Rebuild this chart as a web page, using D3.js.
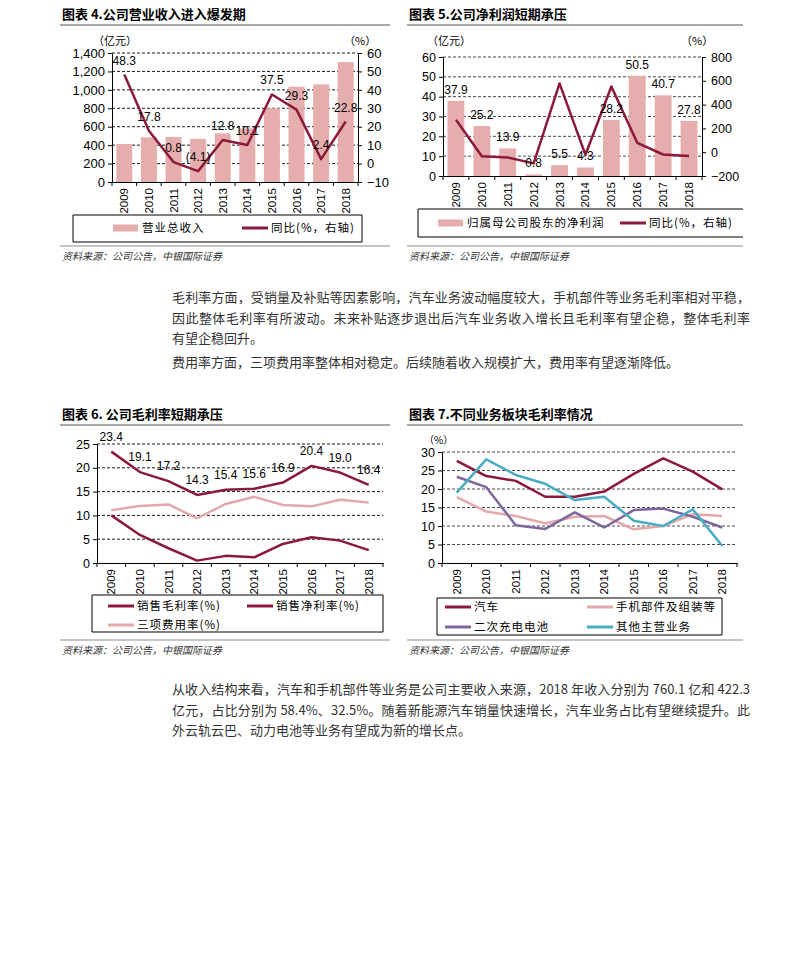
<!DOCTYPE html>
<html>
<head>
<meta charset="utf-8">
<script src="https://cdn.jsdelivr.net/npm/d3@7"></script>
<style>
body { margin: 0; background: #fff; }
#wrap { position: relative; width: 793px; height: 980px; }
svg text { font-family: "Liberation Sans", Arial, "Noto Sans CJK SC", sans-serif; fill: #000; }
svg .cn { font-family: "Noto Sans CJK SC", sans-serif; }
svg .title { font-family: "Noto Sans CJK SC", sans-serif; font-weight: bold; font-size: 13px; }
svg .src { font-family: "Noto Sans CJK SC", sans-serif; font-style: italic; font-size: 10px; fill: #333; }
.para { position: absolute; left: 172px; width: 578px; font-family: "Noto Sans CJK SC", sans-serif;
        font-size: 13px; line-height: 20px; color: #333; }
</style>
</head>
<body>
<div id="wrap"><svg id="page" width="793" height="980"></svg></div>
<script>
const years = ["2009", "2010", "2011", "2012", "2013", "2014", "2015", "2016", "2017", "2018"];

// 图表4 营业收入（亿元）与同比（%）
const revenue = [411.0, 484.8, 488.3, 468.5, 528.6, 582.0, 800.1, 1034.7, 1059.2, 1300.5];
const revenueYoY = [48.3, 17.8, 0.8, -4.1, 12.8, 10.1, 37.5, 29.3, 2.4, 22.8];
const revenueTicks = [0, 200, 400, 600, 800, 1000, 1200, 1400];
const revenueYoYTicks = [-10, 0, 10, 20, 30, 40, 50, 60];

// 图表5 归母净利润（亿元）与同比（%）
const netProfit = [37.9, 25.2, 13.9, 0.8, 5.5, 4.3, 28.2, 50.5, 40.7, 27.8];
const netProfitYoY = [272, -33.5, -44.8, -94.1, 578, -22.0, 552, 79.1, -19.4, -31.7];
const profitTicks = [0, 10, 20, 30, 40, 50, 60];
const profitYoYTicks = [-200, 0, 200, 400, 600, 800];

// 图表6 毛利率 / 净利率 / 三项费用率（%）
const grossMargin = [23.4, 19.1, 17.2, 14.3, 15.4, 15.6, 16.9, 20.4, 19.0, 16.4];
const netMargin = [10.0, 5.9, 3.1, 0.5, 1.5, 1.2, 4.0, 5.4, 4.7, 2.7];
const expenseRatio = [11.1, 12.0, 12.3, 9.4, 12.4, 13.9, 12.2, 11.9, 13.3, 12.7];
const marginTicks = [0, 5, 10, 15, 20, 25];

// 图表7 各业务毛利率（%）
const autoGM = [27.6, 23.5, 22.2, 17.9, 17.9, 19.3, 24.1, 28.3, 24.7, 19.9];
const phoneGM = [17.8, 13.9, 12.7, 10.7, 12.5, 12.7, 9.1, 10.0, 13.2, 12.7];
const batteryGM = [23.3, 20.5, 10.2, 9.2, 13.7, 9.6, 14.3, 14.7, 12.5, 9.6];
const otherGM = [19.0, 28.0, 23.8, 21.4, 17.0, 17.9, 11.4, 10.0, 14.5, 4.6];
const segmentTicks = [0, 5, 10, 15, 20, 25, 30];

const para1 = [
  "毛利率方面，受销量及补贴等因素影响，汽车业务波动幅度较大，手机部件等业务毛利率相对平稳，",
  "因此整体毛利率有所波动。未来补贴逐步退出后汽车业务收入增长且毛利率有望企稳，整体毛利率",
  "有望企稳回升。"
];
const para2 = ["费用率方面，三项费用率整体相对稳定。后续随着收入规模扩大，费用率有望逐渐降低。"];
const para3 = [
  "从收入结构来看，汽车和手机部件等业务是公司主要收入来源，2018 年收入分别为 760.1 亿和 422.3",
  "亿元，占比分别为 58.4%、32.5%。随着新能源汽车销量快速增长，汽车业务占比有望继续提升。此",
  "外云轨云巴、动力电池等业务有望成为新的增长点。"
];

const barColor = "#e6adad";
const darkRed = "#8b1a3a";
const lightPink = "#e3a8a8";
const purple = "#7f679e";
const teal = "#4aacc2";

const svg = d3.select("#page");
const comma = d3.format(",");

const header = (x1, x2, y, text) => {
  svg.append("text").attr("class", "title").attr("x", x1 + 2).attr("y", y).text(text);
  svg.append("line").attr("x1", x1).attr("x2", x2).attr("y1", y + 6).attr("y2", y + 6)
    .attr("stroke", "#8c8c8c").attr("stroke-width", 1.5);
};

const source = (x1, x2, y) => {
  svg.append("line").attr("x1", x1).attr("x2", x2).attr("y1", y).attr("y2", y)
    .attr("stroke", "#8c8c8c").attr("stroke-width", 1.2);
  svg.append("text").attr("class", "src").attr("x", x1 + 2).attr("y", y + 14)
    .text("资料来源：公司公告，中银国际证券");
};

const bandX = (x0, x1) => d3.scaleBand().domain(years).range([x0, x1])
  .paddingInner(0.35).paddingOuter(0.175);

const grid = (y, ticks, x0, x1, color) => {
  svg.append("g").selectAll("line").data(ticks.slice(1)).join("line")
    .attr("x1", x0).attr("x2", x1)
    .attr("y1", d => y(d)).attr("y2", d => y(d))
    .attr("stroke", color).attr("stroke-width", 0.9).attr("stroke-dasharray", "3,2");
};

const styleAxis = (g, size) => {
  g.select(".domain").attr("stroke", "#000");
  g.selectAll(".tick line").attr("stroke", "#000");
  g.selectAll("text").style("font-size", size + "px").attr("fill", "#000");
};

const leftAxis = (y, ticks, x0, fmt, size) => {
  svg.append("g").attr("transform", `translate(${x0},0)`)
    .call(d3.axisLeft(y).tickValues(ticks).tickFormat(fmt).tickSize(4).tickSizeOuter(0).tickPadding(3))
    .call(g => styleAxis(g, size));
};

const rightAxis = (y, ticks, x0, size) => {
  svg.append("g").attr("transform", `translate(${x0},0)`)
    .call(d3.axisRight(y).tickValues(ticks).tickSize(4).tickSizeOuter(0).tickPadding(5))
    .call(g => styleAxis(g, size));
};

const bottomAxis = (x, y0) => {
  const g = svg.append("g").attr("transform", `translate(0,${y0})`)
    .call(d3.axisBottom(x).tickSize(0).tickSizeOuter(0));
  styleAxis(g, 11.5);
  g.selectAll(".tick text")
    .attr("transform", "rotate(-90)")
    .attr("x", -6).attr("y", 0).attr("dy", "0.35em")
    .attr("text-anchor", "end");
  const [r0] = x.range();
  g.selectAll(".bound").data(d3.range(years.length + 1)).join("line")
    .attr("x1", i => r0 + i * x.step()).attr("x2", i => r0 + i * x.step())
    .attr("y1", 0).attr("y2", 4).attr("stroke", "#000");
};

const lineSeries = (x, y, values, color, width) => {
  svg.append("path").datum(values)
    .attr("fill", "none").attr("stroke", color).attr("stroke-width", width)
    .attr("stroke-linejoin", "round")
    .attr("d", d3.line().x((d, i) => x(years[i]) + x.bandwidth() / 2).y(d => y(d)));
};

const legendBox = (x1, x2, y1, y2, openRight) => {
  const p = openRight
    ? `M${x2},${y1}H${x1}V${y2}H${x2}`
    : `M${x1},${y1}H${x2}V${y2}H${x1}Z`;
  svg.append("path").attr("d", p).attr("fill", "none").attr("stroke", "#000").attr("stroke-width", 1);
};

const legendLine = (x, y, color, label) => {
  svg.append("line").attr("x1", x).attr("x2", x + 26).attr("y1", y).attr("y2", y)
    .attr("stroke", color).attr("stroke-width", 3);
  svg.append("text").attr("class", "cn").attr("x", x + 29).attr("y", y).attr("dy", "0.36em")
    .style("font-size", "11.5px").style("letter-spacing", "1px").text(label);
};

const legendSwatch = (x, y, color, label) => {
  svg.append("rect").attr("x", x).attr("y", y - 3.5).attr("width", 25).attr("height", 7).attr("fill", color);
  svg.append("text").attr("class", "cn").attr("x", x + 29).attr("y", y).attr("dy", "0.36em")
    .style("font-size", "11.5px").style("letter-spacing", "1px").text(label);
};

const unit = (x, y, text, size) => {
  svg.append("text").attr("class", "cn").attr("x", x).attr("y", y).attr("dy", "0.36em")
    .style("font-size", size + "px").text(text);
};

// ---------- 图表4 ----------
{
  header(60, 390, 19, "图表 4.公司营业收入进入爆发期");
  const x = bandX(112, 358);
  const y = d3.scaleLinear().domain([0, 1400]).range([182, 53]);
  const y2 = d3.scaleLinear().domain([-10, 60]).range([182, 53]);
  grid(y, revenueTicks, 112, 358, "#000");
  svg.append("g").selectAll("rect").data(revenue).join("rect")
    .attr("x", (d, i) => x(years[i])).attr("width", x.bandwidth())
    .attr("y", d => y(d)).attr("height", d => y(0) - y(d)).attr("fill", barColor);
  leftAxis(y, revenueTicks, 112, comma, 13);
  rightAxis(y2, revenueYoYTicks, 358, 13);
  bottomAxis(x, 182);
  lineSeries(x, y2, revenueYoY, darkRed, 2.5);
  svg.append("g").selectAll("text").data(revenueYoY).join("text")
    .attr("x", (d, i) => x(years[i]) + x.bandwidth() / 2).attr("y", d => y2(d) - 10)
    .attr("text-anchor", "middle").style("font-size", "12px")
    .text(d => d < 0 ? `(${Math.abs(d).toFixed(1)})` : d.toFixed(1));
  unit(93, 41, "（亿元）", 11);
  unit(344, 41, "（%）", 11);
  legendBox(73, 362, 215, 242, false);
  legendSwatch(113, 228, barColor, "营业总收入");
  legendLine(242, 228, darkRed, "同比(%，右轴)");
  source(60, 390, 246);
}

// ---------- 图表5 ----------
{
  header(407, 743, 19, "图表 5.公司净利润短期承压");
  const x = bandX(443, 702);
  const y = d3.scaleLinear().domain([0, 60]).range([176, 57]);
  const y2 = d3.scaleLinear().domain([-200, 800]).range([176, 57]);
  grid(y, profitTicks, 443, 702, "#333");
  svg.append("g").selectAll("rect").data(netProfit).join("rect")
    .attr("x", (d, i) => x(years[i])).attr("width", x.bandwidth())
    .attr("y", d => y(d)).attr("height", d => y(0) - y(d)).attr("fill", barColor);
  leftAxis(y, profitTicks, 443, d3.format("d"), 12.5);
  rightAxis(y2, profitYoYTicks, 702, 12.5);
  bottomAxis(x, 176);
  lineSeries(x, y2, netProfitYoY, darkRed, 2.5);
  svg.append("g").selectAll("text").data(netProfit).join("text")
    .attr("x", (d, i) => x(years[i]) + x.bandwidth() / 2).attr("y", d => y(d) - 7)
    .attr("text-anchor", "middle").style("font-size", "12px")
    .text(d => d.toFixed(1));
  unit(427, 41, "（亿元）", 11);
  unit(681, 41, "（%）", 11);
  legendBox(418, 743, 209, 237, true);
  legendSwatch(438, 223, barColor, "归属母公司股东的净利润");
  legendLine(620, 223, darkRed, "同比(%，右轴)");
  source(407, 743, 246);
}

// ---------- 图表6 ----------
{
  header(60, 390, 419, "图表 6. 公司毛利率短期承压");
  const x = bandX(97, 383);
  const y = d3.scaleLinear().domain([0, 25]).range([563, 444]);
  grid(y, marginTicks, 97, 383, "#000");
  leftAxis(y, marginTicks, 97, d3.format("d"), 12.5);
  bottomAxis(x, 563);
  lineSeries(x, y, expenseRatio, lightPink, 2.5);
  lineSeries(x, y, netMargin, darkRed, 2.5);
  lineSeries(x, y, grossMargin, darkRed, 2.5);
  svg.append("g").selectAll("text").data(grossMargin).join("text")
    .attr("x", (d, i) => x(years[i]) + x.bandwidth() / 2).attr("y", d => y(d) - 11)
    .attr("text-anchor", "middle").style("font-size", "12px")
    .text(d => d.toFixed(1));
  legendBox(92, 383, 595, 632, false);
  legendLine(108, 606, darkRed, "销售毛利率(%)");
  legendLine(247, 606, darkRed, "销售净利率(%)");
  legendLine(108, 625, lightPink, "三项费用率(%)");
  source(60, 390, 640);
}

// ---------- 图表7 ----------
{
  header(407, 743, 419, "图表 7.不同业务板块毛利率情况");
  const x = bandX(442, 737);
  const y = d3.scaleLinear().domain([0, 30]).range([563, 452]);
  grid(y, segmentTicks, 442, 737, "#333");
  leftAxis(y, segmentTicks, 442, d3.format("d"), 12.5);
  bottomAxis(x, 563);
  lineSeries(x, y, phoneGM, lightPink, 2.5);
  lineSeries(x, y, batteryGM, purple, 2.5);
  lineSeries(x, y, autoGM, darkRed, 2.5);
  lineSeries(x, y, otherGM, teal, 2.5);
  unit(424, 440, "（%）", 10);
  legendBox(437, 722, 598, 635, false);
  legendLine(445, 607, darkRed, "汽车");
  legendLine(587, 607, lightPink, "手机部件及组装等");
  legendLine(445, 627, purple, "二次充电电池");
  legendLine(587, 627, teal, "其他主营业务");
  source(407, 743, 640);
}

// ---------- 正文 ----------
const writePara = (lines, top) => {
  d3.select("#wrap").selectAll(null).data(lines).enter().append("div")
    .attr("class", "para")
    .style("top", (d, i) => (top + i * 20.5) + "px")
    .style("text-align", "justify")
    .style("text-align-last", (d, i) => i < lines.length - 1 ? "justify" : "left")
    .text(d => d);
};
writePara(para1, 287);
writePara(para2, 352);
writePara(para3, 679);
</script>
</body>
</html>
